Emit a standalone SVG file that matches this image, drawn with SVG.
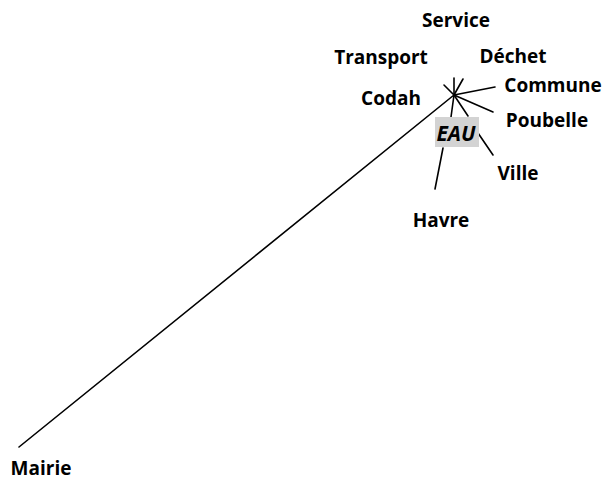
<svg xmlns="http://www.w3.org/2000/svg" width="604" height="482" viewBox="0 0 604 482">
<style>
.lbl{font-family:"Open Sans","Liberation Sans",sans-serif;font-weight:bold;font-size:19px;fill:#000}
.eau{font-family:"Open Sans","Liberation Sans",sans-serif;font-weight:bold;font-style:italic;font-size:21px;fill:#000}
.ln{stroke:#000;stroke-width:1.6;fill:none;stroke-linecap:round}
</style>
<rect width="604" height="482" fill="#fff"/>
<g id="connectors">
<line class="ln" x1="454" y1="95" x2="454" y2="78"/>
<line class="ln" x1="454" y1="95" x2="463" y2="79"/>
<line class="ln" x1="454" y1="95" x2="444" y2="85"/>
<line class="ln" x1="454" y1="95" x2="495" y2="87"/>
<line class="ln" x1="454" y1="95" x2="493" y2="112"/>
<line class="ln" x1="454" y1="95" x2="451" y2="117"/>
<line class="ln" x1="454" y1="95" x2="468" y2="116"/>
<line class="ln" x1="454" y1="95" x2="19" y2="447"/>
<line class="ln" x1="478" y1="133" x2="493" y2="155"/>
<line class="ln" x1="443" y1="148" x2="435" y2="189"/>
</g>
<g id="eau">
<rect x="435" y="117" width="44" height="30" fill="#d3d3d3"/>
<text class="eau" x="456" y="141" text-anchor="middle">EAU</text>
</g>
<g id="service"><text class="lbl" x="456" y="27" text-anchor="middle">Service</text></g>
<g id="transport"><text class="lbl" x="381" y="64" text-anchor="middle">Transport</text></g>
<g id="dechet"><text class="lbl" x="513" y="63" text-anchor="middle">Déchet</text></g>
<g id="commune"><text class="lbl" x="553" y="92" text-anchor="middle">Commune</text></g>
<g id="codah"><text class="lbl" x="391" y="105" text-anchor="middle">Codah</text></g>
<g id="poubelle"><text class="lbl" x="547" y="127" text-anchor="middle">Poubelle</text></g>
<g id="ville"><text class="lbl" x="518" y="180" text-anchor="middle">Ville</text></g>
<g id="havre"><text class="lbl" x="441" y="227" text-anchor="middle">Havre</text></g>
<g id="mairie"><text class="lbl" x="41" y="475" text-anchor="middle">Mairie</text></g>
</svg>
